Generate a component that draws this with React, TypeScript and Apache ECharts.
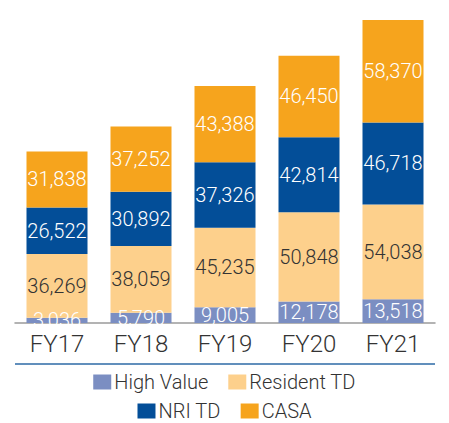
import React, { useEffect, useRef } from "react";
import * as echarts from "echarts";

const categories = ["FY17", "FY18", "FY19", "FY20", "FY21"];
const highValue = [3036, 5790, 9005, 12178, 13518];
const residentTD = [36269, 38059, 45235, 50848, 54038];
const nriTD = [26522, 30892, 37326, 42814, 46718];
const casa = [31838, 37252, 43388, 46450, 58370];

const FONT = "Roboto, 'Noto Sans', sans-serif";

export default function App() {
  const ref = useRef<HTMLDivElement>(null);
  useEffect(() => {
    if (!ref.current) return;
    const chart = echarts.init(ref.current, null, { renderer: "svg" });
    const fmt = (p: any) => Number(p.value).toLocaleString("en-US");
    const mk = (name: string, data: number[], color: string, labelColor: string) => ({
      name,
      type: "bar",
      stack: "total",
      data,
      barWidth: 61,
      itemStyle: { color },
      label: {
        show: true,
        position: "inside",
        color: labelColor,
        fontFamily: FONT,
        fontWeight: 300,
        fontSize: 20,
        formatter: fmt,
      },
    });
    const legendText = { color: "#333", fontFamily: FONT, fontWeight: 300, fontSize: 20, padding: [0, 0, 0, -2] };
    chart.setOption({
      animation: false,
      grid: { left: 15, right: 14, top: 7, bottom: 100 },
      xAxis: {
        type: "category",
        data: categories,
        axisLine: { lineStyle: { color: "#9a9a9a", width: 1.5 } },
        axisTick: { inside: true, length: 7, lineStyle: { color: "#9a9a9a", width: 1.5 } },
        axisLabel: { color: "#333", fontFamily: FONT, fontWeight: 300, fontSize: 24, margin: 9 },
      },
      yAxis: { type: "value", min: 0, max: 180000, show: false, splitLine: { show: false } },
      legend: [
        {
          data: ["High Value", "Resident TD"],
          top: 367,
          left: "center",
          itemWidth: 18,
          itemHeight: 15,
          itemGap: 20,
          icon: "rect",
          textStyle: legendText,
        },
        {
          data: ["NRI TD", "CASA"],
          top: 396,
          left: "center",
          itemWidth: 18,
          itemHeight: 15,
          itemGap: 20,
          icon: "rect",
          textStyle: legendText,
        },
      ],
      graphic: [
        {
          type: "line",
          shape: { x1: 15, y1: 364, x2: 435, y2: 364 },
          style: { stroke: "#2d6aa6", lineWidth: 1.5 },
        },
      ],
      series: [
        mk("High Value", highValue, "#7b8ec2", "#ffffff"),
        mk("Resident TD", residentTD, "#fdd08c", "#333333"),
        mk("NRI TD", nriTD, "#034e98", "#ffffff"),
        mk("CASA", casa, "#f6a41d", "#ffffff"),
      ],
    });
    return () => chart.dispose();
  }, []);
  return <div ref={ref} style={{ width: 449, height: 423, position: "absolute", left: 0, top: 0 }} />;
}
